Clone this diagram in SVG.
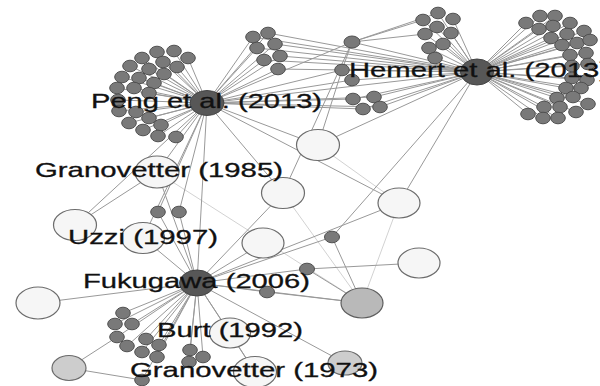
<svg xmlns="http://www.w3.org/2000/svg" width="600" height="386" viewBox="0 0 600 386">
<style>
.e{stroke:#999;stroke-width:1;fill:none}
.l{stroke:#d2d2d2;stroke-width:1;fill:none}
.s{fill:#797979;stroke:#4f4f4f;stroke-width:1}
.h{fill:#575757;stroke:#444;stroke-width:1}
.w{fill:#f6f6f6;stroke:#6c6c6c;stroke-width:1.2}
.g{fill:#b9b9b9;stroke:#5e5e5e;stroke-width:1.2}
.lg{fill:#cdcdcd;stroke:#6a6a6a;stroke-width:1.2}
text{font-family:"Liberation Sans",Arial,sans-serif;font-size:21px;fill:#111;stroke:#111;stroke-width:0.3}
</style>
<rect width="600" height="386" fill="#fff"/>
<g id="connectors">
<path class="l" d="M283 193L362 303M399 203L362 303M157 172L362 303M318 145L399 203"/>
<path class="e" d="M207 103L157 52M207 103L174 51M207 103L188 58M207 103L142 58M207 103L163 62M207 103L177 67M207 103L130 66M207 103L149 69M207 103L164 74M207 103L122 77M207 103L139 78M207 103L154 83M207 103L117 88M207 103L134 88M207 103L149 93M207 103L118 100M207 103L119 111M207 103L136 112M207 103L149 118M207 103L129 123M207 103L161 125M207 103L143 130M207 103L158 136M207 103L176 137M207 103L253 37M207 103L268 33M207 103L257 48M207 103L275 44M207 103L264 60M207 103L280 56M207 103L278 69M207 103L352 42M207 103L342 70M207 103L352 80M207 103L353 99M207 103L374 97M207 103L363 109M207 103L380 107M207 103L477 72M207 103L157 172M207 103L158 212M207 103L179 212M207 103L143 238M207 103L197 283M207 103L318 145M207 103L283 193M207 103L399 203M207 103L75 225"/>
<path class="e" d="M477 72L438 13M477 72L453 19M477 72L423 20M477 72L437 27M477 72L451 33M477 72L425 34M477 72L443 44M477 72L429 48M477 72L435 58M477 72L526 23M477 72L540 16M477 72L555 16M477 72L539 29M477 72L553 26M477 72L570 23M477 72L551 38M477 72L567 34M477 72L584 31M477 72L562 45M477 72L577 43M477 72L590 40M477 72L570 55M477 72L586 53M477 72L572 66M477 72L588 64M477 72L572 78M477 72L587 80M477 72L566 88M477 72L581 88M477 72L557 98M477 72L573 97M477 72L588 104M477 72L544 107M477 72L560 107M477 72L576 112M477 72L528 114M477 72L543 118M477 72L558 118M477 72L253 37M477 72L268 33M477 72L257 48M477 72L275 44M477 72L264 60M477 72L280 56M477 72L278 69M477 72L352 42M477 72L342 70M477 72L352 80M477 72L353 99M477 72L374 97M477 72L363 109M477 72L380 107M477 72L318 145M477 72L332 237M477 72L399 203"/>
<path class="e" d="M352 42L423 20M352 42L438 13M352 42L425 34M352 42L342 70M352 42L283 193M342 70L318 145"/>
<path class="e" d="M197 283L123 313M197 283L115 324M197 283L132 324M197 283L117 337M197 283L127 346M197 283L146 339M197 283L142 352M197 283L159 345M197 283L157 357M197 283L190 350M197 283L203 357M197 283L189 362M197 283L142 380M197 283L38 303M197 283L158 212M197 283L179 212M197 283L143 238M197 283L157 172M197 283L263 243M197 283L283 193M197 283L332 237M197 283L307 269M197 283L267 292M197 283L362 303M197 283L399 203M197 283L230 333M197 283L255 372M197 283L345 363"/>
<path class="e" d="M69 368L117 337M69 368L142 380M230 333L255 372M307 269L419 263M307 269L362 303M332 237L362 303M267 292L362 303M75 225L157 172"/>
</g>
<g id="peng-cluster">
<ellipse class="s" cx="157" cy="52" rx="7.3" ry="5.8"/><ellipse class="s" cx="174" cy="51" rx="7.3" ry="5.8"/><ellipse class="s" cx="188" cy="58" rx="7.3" ry="5.8"/><ellipse class="s" cx="142" cy="58" rx="7.3" ry="5.8"/><ellipse class="s" cx="163" cy="62" rx="7.3" ry="5.8"/><ellipse class="s" cx="177" cy="67" rx="7.3" ry="5.8"/><ellipse class="s" cx="130" cy="66" rx="7.3" ry="5.8"/><ellipse class="s" cx="149" cy="69" rx="7.3" ry="5.8"/><ellipse class="s" cx="164" cy="74" rx="7.3" ry="5.8"/><ellipse class="s" cx="122" cy="77" rx="7.3" ry="5.8"/><ellipse class="s" cx="139" cy="78" rx="7.3" ry="5.8"/><ellipse class="s" cx="154" cy="83" rx="7.3" ry="5.8"/><ellipse class="s" cx="117" cy="88" rx="7.3" ry="5.8"/><ellipse class="s" cx="134" cy="88" rx="7.3" ry="5.8"/><ellipse class="s" cx="149" cy="93" rx="7.3" ry="5.8"/><ellipse class="s" cx="118" cy="100" rx="7.3" ry="5.8"/><ellipse class="s" cx="119" cy="111" rx="7.3" ry="5.8"/><ellipse class="s" cx="136" cy="112" rx="7.3" ry="5.8"/><ellipse class="s" cx="149" cy="118" rx="7.3" ry="5.8"/><ellipse class="s" cx="129" cy="123" rx="7.3" ry="5.8"/><ellipse class="s" cx="161" cy="125" rx="7.3" ry="5.8"/><ellipse class="s" cx="143" cy="130" rx="7.3" ry="5.8"/><ellipse class="s" cx="158" cy="136" rx="7.3" ry="5.8"/><ellipse class="s" cx="176" cy="137" rx="7.3" ry="5.8"/>
</g>
<g id="peng-upper-cluster">
<ellipse class="s" cx="253" cy="37" rx="7.3" ry="5.8"/><ellipse class="s" cx="268" cy="33" rx="7.3" ry="5.8"/><ellipse class="s" cx="257" cy="48" rx="7.3" ry="5.8"/><ellipse class="s" cx="275" cy="44" rx="7.3" ry="5.8"/><ellipse class="s" cx="264" cy="60" rx="7.3" ry="5.8"/><ellipse class="s" cx="280" cy="56" rx="7.3" ry="5.8"/><ellipse class="s" cx="278" cy="69" rx="7.3" ry="5.8"/>
</g>
<g id="mid-small">
<ellipse class="s" cx="352" cy="42" rx="8" ry="6"/>
<ellipse class="s" cx="342" cy="70" rx="7.3" ry="5.8"/><ellipse class="s" cx="352" cy="80" rx="7.3" ry="5.8"/>
<ellipse class="s" cx="353" cy="99" rx="7.3" ry="5.8"/><ellipse class="s" cx="374" cy="97" rx="7.3" ry="5.8"/><ellipse class="s" cx="363" cy="109" rx="7.3" ry="5.8"/><ellipse class="s" cx="380" cy="107" rx="7.3" ry="5.8"/>
</g>
<g id="hemert-cluster-left">
<ellipse class="s" cx="438" cy="13" rx="7.3" ry="5.8"/><ellipse class="s" cx="453" cy="19" rx="7.3" ry="5.8"/><ellipse class="s" cx="423" cy="20" rx="7.3" ry="5.8"/><ellipse class="s" cx="437" cy="27" rx="7.3" ry="5.8"/><ellipse class="s" cx="451" cy="33" rx="7.3" ry="5.8"/><ellipse class="s" cx="425" cy="34" rx="7.3" ry="5.8"/><ellipse class="s" cx="443" cy="44" rx="7.3" ry="5.8"/><ellipse class="s" cx="429" cy="48" rx="7.3" ry="5.8"/><ellipse class="s" cx="435" cy="58" rx="7.3" ry="5.8"/>
</g>
<g id="hemert-cluster-right">
<ellipse class="s" cx="526" cy="23" rx="7.3" ry="5.8"/><ellipse class="s" cx="540" cy="16" rx="7.3" ry="5.8"/><ellipse class="s" cx="555" cy="16" rx="7.3" ry="5.8"/><ellipse class="s" cx="539" cy="29" rx="7.3" ry="5.8"/><ellipse class="s" cx="553" cy="26" rx="7.3" ry="5.8"/><ellipse class="s" cx="570" cy="23" rx="7.3" ry="5.8"/><ellipse class="s" cx="551" cy="38" rx="7.3" ry="5.8"/><ellipse class="s" cx="567" cy="34" rx="7.3" ry="5.8"/><ellipse class="s" cx="584" cy="31" rx="7.3" ry="5.8"/><ellipse class="s" cx="562" cy="45" rx="7.3" ry="5.8"/><ellipse class="s" cx="577" cy="43" rx="7.3" ry="5.8"/><ellipse class="s" cx="590" cy="40" rx="7.3" ry="5.8"/><ellipse class="s" cx="570" cy="55" rx="7.3" ry="5.8"/><ellipse class="s" cx="586" cy="53" rx="7.3" ry="5.8"/><ellipse class="s" cx="572" cy="66" rx="7.3" ry="5.8"/><ellipse class="s" cx="588" cy="64" rx="7.3" ry="5.8"/><ellipse class="s" cx="572" cy="78" rx="7.3" ry="5.8"/><ellipse class="s" cx="587" cy="80" rx="7.3" ry="5.8"/><ellipse class="s" cx="566" cy="88" rx="7.3" ry="5.8"/><ellipse class="s" cx="581" cy="88" rx="7.3" ry="5.8"/><ellipse class="s" cx="557" cy="98" rx="7.3" ry="5.8"/><ellipse class="s" cx="573" cy="97" rx="7.3" ry="5.8"/><ellipse class="s" cx="588" cy="104" rx="7.3" ry="5.8"/><ellipse class="s" cx="544" cy="107" rx="7.3" ry="5.8"/><ellipse class="s" cx="560" cy="107" rx="7.3" ry="5.8"/><ellipse class="s" cx="576" cy="112" rx="7.3" ry="5.8"/><ellipse class="s" cx="528" cy="114" rx="7.3" ry="5.8"/><ellipse class="s" cx="543" cy="118" rx="7.3" ry="5.8"/><ellipse class="s" cx="558" cy="118" rx="7.3" ry="5.8"/>
</g>
<g id="fukugawa-cluster">
<ellipse class="s" cx="123" cy="313" rx="7.3" ry="5.8"/><ellipse class="s" cx="115" cy="324" rx="7.3" ry="5.8"/><ellipse class="s" cx="132" cy="324" rx="7.3" ry="5.8"/><ellipse class="s" cx="117" cy="337" rx="7.3" ry="5.8"/><ellipse class="s" cx="127" cy="346" rx="7.3" ry="5.8"/><ellipse class="s" cx="146" cy="339" rx="7.3" ry="5.8"/><ellipse class="s" cx="142" cy="352" rx="7.3" ry="5.8"/><ellipse class="s" cx="159" cy="345" rx="7.3" ry="5.8"/><ellipse class="s" cx="157" cy="357" rx="7.3" ry="5.8"/><ellipse class="s" cx="190" cy="350" rx="7.3" ry="5.8"/><ellipse class="s" cx="203" cy="357" rx="7.3" ry="5.8"/><ellipse class="s" cx="189" cy="362" rx="7.3" ry="5.8"/><ellipse class="s" cx="142" cy="380" rx="7.3" ry="5.8"/>
</g>
<g id="small-nodes">
<ellipse class="s" cx="158" cy="212" rx="7.3" ry="5.8"/><ellipse class="s" cx="179" cy="212" rx="7.3" ry="5.8"/><ellipse class="s" cx="332" cy="237" rx="7.5" ry="5.8"/><ellipse class="s" cx="307" cy="269" rx="7.5" ry="5.8"/><ellipse class="s" cx="267" cy="292" rx="7.5" ry="5.8"/>
</g>
<g id="n-granovetter1985"><ellipse class="w" cx="157" cy="172" rx="22" ry="16"/></g>
<g id="n-318"><ellipse class="w" cx="318" cy="145" rx="21.5" ry="15.5"/></g>
<g id="n-283"><ellipse class="w" cx="283" cy="193" rx="21.5" ry="15.5"/></g>
<g id="n-399"><ellipse class="w" cx="399" cy="203" rx="21" ry="15"/></g>
<g id="n-419"><ellipse class="w" cx="419" cy="263" rx="21" ry="15"/></g>
<g id="n-75"><ellipse class="w" cx="75" cy="225" rx="21.5" ry="15.5"/></g>
<g id="n-uzzi"><ellipse class="w" cx="143" cy="238" rx="21.5" ry="15.5"/></g>
<g id="n-263"><ellipse class="w" cx="263" cy="243" rx="21" ry="15"/></g>
<g id="n-38"><ellipse class="w" cx="38" cy="303" rx="22" ry="16"/></g>
<g id="n-burt"><ellipse class="w" cx="230" cy="333" rx="20.5" ry="15"/></g>
<g id="n-granovetter1973"><ellipse class="w" cx="255" cy="372" rx="21.5" ry="15.5"/></g>
<g id="n-gray1"><ellipse class="g" cx="362" cy="303" rx="21" ry="15"/></g>
<g id="n-gray2"><ellipse class="lg" cx="69" cy="368" rx="17" ry="12.5"/></g>
<g id="n-gray3"><ellipse class="lg" cx="345" cy="363" rx="17" ry="12"/></g>
<g id="hub-peng"><ellipse class="h" cx="207" cy="103" rx="17" ry="12.5"/></g>
<g id="hub-hemert"><ellipse class="h" cx="477" cy="72" rx="16.5" ry="13"/></g>
<g id="hub-fukugawa"><ellipse class="h" cx="197" cy="283" rx="17.5" ry="13"/></g>
<g id="labels">
<text x="91" y="108" textLength="231" lengthAdjust="spacingAndGlyphs">Peng et al. (2013)</text>
<text x="349" y="77" textLength="260" lengthAdjust="spacingAndGlyphs">Hemert et al. (2013)</text>
<text x="35" y="177" textLength="248" lengthAdjust="spacingAndGlyphs">Granovetter (1985)</text>
<text x="68" y="244" textLength="150" lengthAdjust="spacingAndGlyphs">Uzzi (1997)</text>
<text x="83" y="288" textLength="227" lengthAdjust="spacingAndGlyphs">Fukugawa (2006)</text>
<text x="157" y="337" textLength="146" lengthAdjust="spacingAndGlyphs">Burt (1992)</text>
<text x="130" y="377" textLength="248" lengthAdjust="spacingAndGlyphs">Granovetter (1973)</text>
</g>
</svg>
